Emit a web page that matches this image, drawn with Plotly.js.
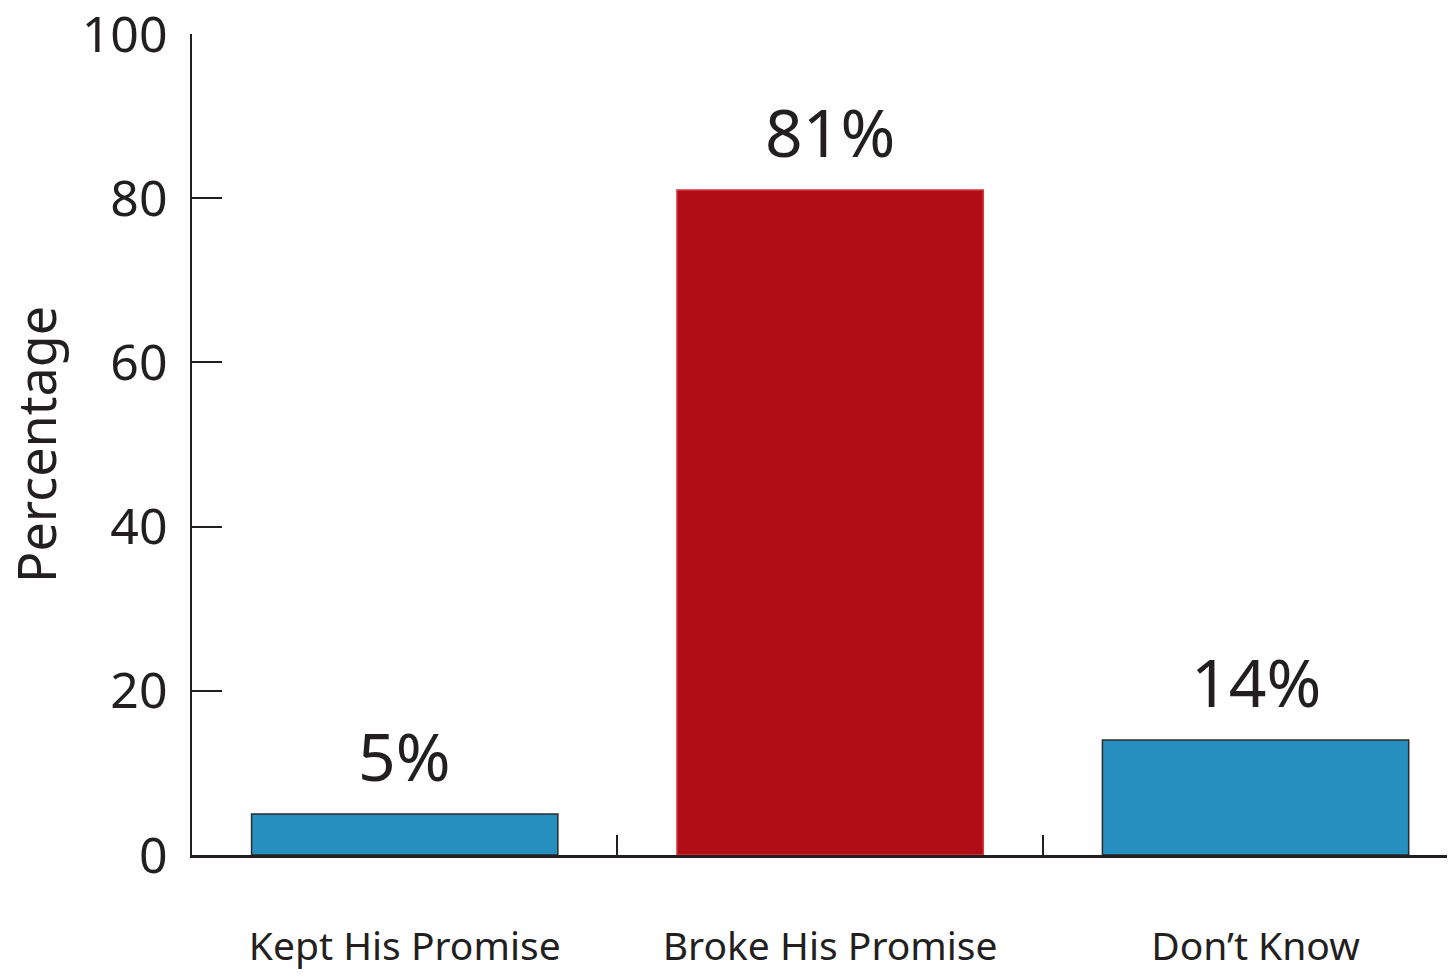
<!DOCTYPE html>
<html>
<head>
<meta charset="utf-8">
<script src="https://cdn.plot.ly/plotly-3.0.1.min.js"></script>
<style>html,body{margin:0;padding:0;background:#fff;}#chart{width:1454px;height:976px;}</style>
</head>
<body>
<div id="chart"></div>
<script>
const categories = ["Kept His Promise", "Broke His Promise", "Don\u2019t Know"];
const percentages = [5, 81, 14];
const valueLabels = ["5%", "81%", "14%"];
const yTickValues = [0, 20, 40, 60, 80, 100];

const ink = "#231f20";
const barColors = ["#268fc0", "#b00d17", "#268fc0"];
const barLineColors = ["#2b2b2b", "#d23a40", "#2b2b2b"];

const trace = {
  type: "bar",
  x: categories,
  y: percentages,
  width: 0.72,
  marker: { color: barColors, line: { color: barLineColors, width: 1.5 } },
  hoverinfo: "none"
};

const annotations = categories.map((c, i) => ({
  x: c, y: percentages[i], xref: "x", yref: "y",
  text: valueLabels[i], showarrow: false,
  yanchor: "bottom", yshift: 12,
  font: { family: "Noto Sans, sans-serif", size: 66, color: ink }
}));

const layout = {
  width: 1454, height: 976,
  margin: { l: 192, r: 7, t: 34, b: 121 },
  paper_bgcolor: "#fff", plot_bgcolor: "#fff",
  showlegend: false,
  font: { family: "Noto Sans, sans-serif", color: ink },
  xaxis: {
    type: "category",
    range: [-0.5, 2.45],
    showline: true, linecolor: ink, linewidth: 2.5,
    ticks: "inside", tickson: "boundaries", ticklen: 20, tickwidth: 2, tickcolor: ink,
    showgrid: false, zeroline: false,
    tickfont: { size: 39, color: ink },
    ticklabelstandoff: 56,
    ticklabeloverflow: "allow",
    fixedrange: true
  },
  yaxis: {
    range: [0, 100.01],
    tickvals: yTickValues,
    ticktext: yTickValues.map(String),
    showline: true, linecolor: ink, linewidth: 2.5,
    ticks: "inside", ticklen: 30, tickwidth: 2, tickcolor: ink,
    showgrid: false, zeroline: false,
    tickfont: { size: 50, color: ink },
    ticklabelstandoff: 12,
    ticklabeloverflow: "allow",
    title: { text: "Percentage", font: { size: 52, color: ink }, standoff: 40 },
    fixedrange: true
  },
  annotations: annotations
};

Plotly.newPlot("chart", [trace], layout, { displayModeBar: false, staticPlot: true });
</script>
</body>
</html>
